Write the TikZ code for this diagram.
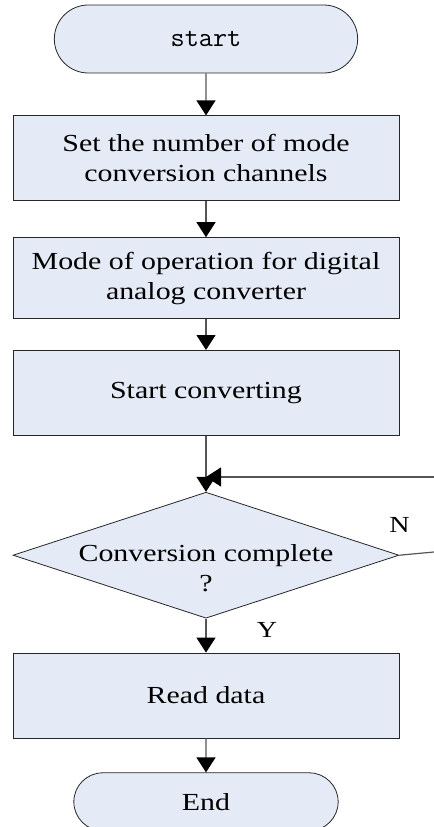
\documentclass[tikz,border=0pt]{standalone}
\usepackage{fontspec}
\setmainfont{Liberation Serif}[FakeStretch=1.22]
\usetikzlibrary{positioning,arrows.meta,shapes.geometric,shapes.misc}
\definecolor{boxfill}{RGB}{228,235,246}
\definecolor{linegray}{RGB}{85,85,85}

\begin{document}
\begin{tikzpicture}[
        node distance=34bp,
        terminal/.style={rounded rectangle, draw=black!85, fill=boxfill, line width=0.8bp,
            minimum width=310bp, minimum height=68bp, font=\fontsize{24.5bp}{30bp}\selectfont},
        block/.style={rectangle, draw=black!85, fill=boxfill, line width=0.8bp,
            minimum width=386bp, minimum height=85bp, align=center, font=\fontsize{24.5bp}{30bp}\selectfont},
        decision/.style={diamond, draw=black!85, fill=boxfill, line width=0.8bp,
            minimum width=386bp, minimum height=126bp, inner sep=0pt},
        yesno/.style={font=\fontsize{23bp}{26bp}\selectfont},
        line/.style={draw=linegray, line width=1.2bp, -{Triangle[length=15bp, width=19bp, color=black]}}
    ]
    \useasboundingbox (0,0) rectangle (434bp,-827bp);

    \node [terminal] (start) at (206bp,-39bp) {\ttfamily\fontsize{27.5bp}{30bp}\selectfont start};
    \node [block, below=42bp of start] (chan) {Set the number of mode\\conversion channels};
    \node [block, below=36bp of chan, minimum height=81bp] (mode) {Mode of operation for digital\\analog converter};
    \node [block, below=31bp of mode] (conv) {Start converting};
    \node [decision, below=56bp of conv,
        label={[align=center, font=\fontsize{24.5bp}{30bp}\selectfont, yshift=-13bp]center:Conversion complete\\?}] (check) {};
    \node [block, below=of check] (read) {Read data};
    \node [terminal, below=of read, minimum width=271bp, minimum height=58bp] (stop) {End};

    \node [yesno] (no) at ([yshift=30bp]check.east) {N};
    \node [yesno] (yes) at ([xshift=61bp, yshift=-11bp]check.south) {Y};

    \coordinate (back) at (434bp,-477bp);
    \coordinate (exit) at (434bp,-552bp);

    \path [line] (start) -- (chan);
    \path [line] (chan) -- (mode);
    \path [line] (mode) -- (conv);
    \path [line] (conv) -- (check);
    \path [line] (back) -- (conv.south |- back);
    \draw [linegray, line width=1.2bp] (check.east) -- (exit);
    \path [line] (check) -- (read);
    \path [line] (read) -- (stop);
\end{tikzpicture}
\end{document}
